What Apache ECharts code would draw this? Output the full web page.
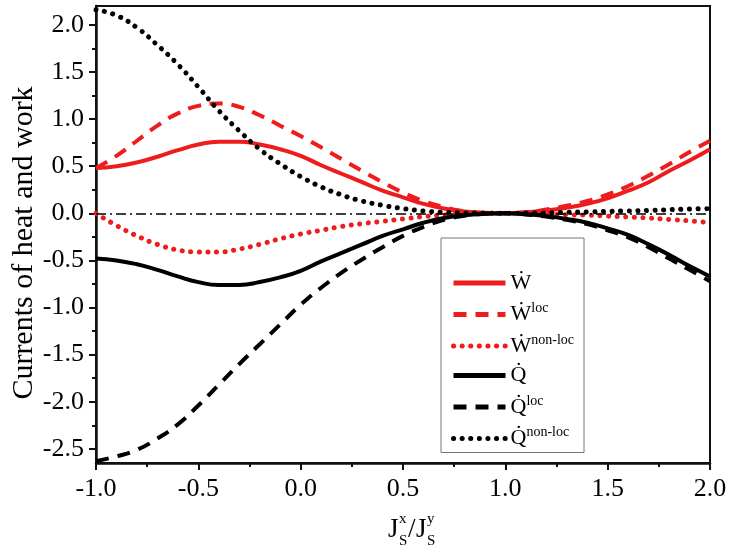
<!DOCTYPE html>
<html>
<head>
<meta charset="utf-8">
<script src="https://cdn.jsdelivr.net/npm/echarts@6/dist/echarts.min.js"></script>
<style>
html,body{margin:0;padding:0;background:#fff;}
#chart{width:734px;height:558px;}
</style>
</head>
<body>
<div id="chart"></div>
<script>
// ---- data ----
const xVals = [-1.0,-0.9,-0.8,-0.7,-0.6,-0.5,-0.4,-0.3,-0.2,-0.1,0.0,0.1,0.2,0.3,0.4,0.5,0.6,0.7,0.8,0.9,1.0,1.1,1.2,1.3,1.4,1.5,1.6,1.7,1.8,1.9,2.0];
const W      = [0.48,0.50,0.54,0.60,0.67,0.73,0.76,0.76,0.73,0.68,0.61,0.51,0.42,0.33,0.24,0.17,0.10,0.05,0.02,0.005,0,0.01,0.03,0.06,0.10,0.16,0.24,0.33,0.45,0.56,0.68];
const Wloc   = [0.48,0.61,0.77,0.93,1.06,1.14,1.165,1.13,1.04,0.93,0.82,0.70,0.575,0.45,0.33,0.22,0.13,0.065,0.02,0.005,0,0.01,0.04,0.08,0.13,0.20,0.29,0.40,0.52,0.65,0.77];
const Wnl    = [0,-0.13,-0.24,-0.33,-0.39,-0.41,-0.41,-0.38,-0.33,-0.27,-0.22,-0.18,-0.14,-0.11,-0.085,-0.06,-0.035,-0.02,-0.01,-0.003,0,-0.003,-0.008,-0.015,-0.02,-0.03,-0.04,-0.05,-0.065,-0.08,-0.10];
const Q      = [-0.48,-0.50,-0.54,-0.60,-0.67,-0.73,-0.76,-0.76,-0.73,-0.68,-0.61,-0.51,-0.42,-0.33,-0.24,-0.17,-0.10,-0.05,-0.02,-0.005,0,-0.01,-0.03,-0.06,-0.10,-0.16,-0.23,-0.33,-0.44,-0.56,-0.67];
const Qloc   = [-2.63,-2.58,-2.51,-2.39,-2.24,-2.04,-1.82,-1.60,-1.39,-1.18,-0.97,-0.79,-0.63,-0.49,-0.36,-0.24,-0.145,-0.07,-0.025,-0.005,0,-0.012,-0.035,-0.07,-0.115,-0.18,-0.255,-0.36,-0.48,-0.60,-0.72];
const Qnl    = [2.16,2.10,1.97,1.785,1.58,1.34,1.09,0.875,0.68,0.525,0.39,0.28,0.195,0.13,0.085,0.05,0.025,0.01,0.004,0.001,0,0.002,0.005,0.01,0.015,0.02,0.025,0.03,0.038,0.045,0.05];
const seriesNames = ['W','Wloc','Wnonloc','Q','Qloc','Qnonloc'];
const xTickLabels = ['-1.0','-0.5','0.0','0.5','1.0','1.5','2.0'];
const yTickLabels = ['-2.5','-2.0','-1.5','-1.0','-0.5','0.0','0.5','1.0','1.5','2.0'];
const yTitle = 'Currents of heat and work';
const zeroLevel = 0;

// ---- layout / style ----
const X_MIN = -1, X_MAX = 2, Y_MIN = -2.65, Y_MAX = 2.2;
const G_LEFT = 96, G_RIGHT = 24, G_TOP = 6, G_BOTTOM = 95;
const H = 558, plotH = H - G_TOP - G_BOTTOM;
const pxPerUnit = plotH / (Y_MAX - Y_MIN);
const tickTop = G_TOP + (Y_MAX - 2.0) * pxPerUnit;
const tickBottom = H - (G_TOP + (Y_MAX - (-2.5)) * pxPerUnit);
const FONT = 'Liberation Serif';
const RED = '#ee1c1c', BLACK = '#000';

function pairs(ys){ return xVals.map((x,i)=>[x, ys[i]]); }

const solid = c => ({color:c, width:4, type:'solid'});
const dashed = c => ({color:c, width:4, type:[13,9], cap:'butt'});
const dotted = c => ({color:c, width:5, type:[0.1,8.5], cap:'round'});

const specs = [
  {name:seriesNames[0], data:W, ls:solid(RED)},
  {name:seriesNames[1], data:Wloc, ls:dashed(RED)},
  {name:seriesNames[2], data:Wnl, ls:dotted(RED)},
  {name:seriesNames[3], data:Q, ls:solid(BLACK)},
  {name:seriesNames[4], data:Qloc, ls:dashed(BLACK)},
  {name:seriesNames[5], data:Qnl, ls:dotted(BLACK)}
];

const legendText = {
  W: '{b|W\u0307}',
  Wloc: '{b|W\u0307}{s|loc}',
  Wnonloc: '{b|W\u0307}{s|non-loc}',
  Q: '{b|Q\u0307}',
  Qloc: '{b|Q\u0307}{s|loc}',
  Qnonloc: '{b|Q\u0307}{s|non-loc}'
};

const series = specs.map(s => ({
  name: s.name, type:'line', xAxisIndex:0, yAxisIndex:0,
  data: pairs(s.data), smooth:true, symbol:'none', showSymbol:false,
  lineStyle: s.ls, itemStyle:{color:s.ls.color, opacity:0}, z: 3
}));
series.unshift({
  name:'zero', type:'line', xAxisIndex:0, yAxisIndex:0, data:[], symbol:'none',
  markLine:{silent:true, symbol:'none', label:{show:false},
    lineStyle:{color:'#000', width:1.5, type:[10,4,2,4]},
    data:[{yAxis: zeroLevel}]}
});
series.push({type:'line', xAxisIndex:1, yAxisIndex:1, data:[], symbol:'none'});

const chart = echarts.init(document.getElementById('chart'), null, {renderer:'canvas'});
chart.setOption({
  animation:false,
  backgroundColor:'#fff',
  grid:[
    {left:G_LEFT, right:G_RIGHT, top:G_TOP, bottom:G_BOTTOM, show:true, borderColor:'#111', borderWidth:2, backgroundColor:'transparent'},
    {left:G_LEFT, right:G_RIGHT, top:tickTop, bottom:tickBottom, show:false}
  ],
  legend:{
    data:seriesNames, orient:'vertical', left:441, top:238,
    width:133, padding:[34,10,3,10], itemGap:7.5, itemWidth:52, itemHeight:14,
    borderColor:'#777', borderWidth:1, backgroundColor:'#fff',
    selectedMode:false,
    itemStyle:{opacity:0},
    lineStyle:{width:5},
    formatter: n => legendText[n],
    textStyle:{
      color:'#000', fontFamily:FONT,
      rich:{
        b:{fontFamily:FONT, fontSize:22, color:'#000', lineHeight:26},
        s:{fontFamily:FONT, fontSize:14, color:'#000', lineHeight:14, verticalAlign:'top'}
      }
    }
  },
  xAxis:[
    {type:'value', gridIndex:0, min:X_MIN, max:X_MAX, interval:0.5,
     axisLine:{show:true, onZero:false, lineStyle:{color:'#111', width:2.5}},
     axisTick:{show:true, inside:false, length:7, lineStyle:{color:'#111', width:2}},
     minorTick:{show:true, splitNumber:2, length:4, lineStyle:{color:'#111', width:2}},
     splitLine:{show:false}, minorSplitLine:{show:false},
     axisLabel:{show:true, margin:13, color:'#000', fontFamily:FONT, fontSize:26,
       formatter: v => { const i = Math.round((v - X_MIN)/0.5); return xTickLabels[i] !== undefined ? xTickLabels[i] : ''; }}
    },
    {type:'value', gridIndex:1, min:X_MIN, max:X_MAX, show:false}
  ],
  yAxis:[
    {type:'value', gridIndex:0, min:Y_MIN, max:Y_MAX,
     axisLine:{show:true, onZero:false, lineStyle:{color:'#111', width:2.5}},
     axisTick:{show:false}, axisLabel:{show:false}, splitLine:{show:false}
    },
    {type:'value', gridIndex:1, min:-2.5, max:2.0, interval:0.5, position:'left',
     axisLine:{show:false, onZero:false},
     axisTick:{show:true, inside:false, length:7, lineStyle:{color:'#111', width:2}},
     minorTick:{show:true, splitNumber:2, length:4, lineStyle:{color:'#111', width:2}},
     splitLine:{show:false}, minorSplitLine:{show:false},
     axisLabel:{show:true, margin:12, color:'#000', fontFamily:FONT, fontSize:26,
       formatter: v => { const i = Math.round((v + 2.5)/0.5); return yTickLabels[i] !== undefined ? yTickLabels[i] : ''; }}
    }
  ],
  graphic:[
    {type:'text', x:24, y:243, rotation:Math.PI/2,
     style:{text:yTitle, font:'30px "Liberation Serif"', fill:'#000', align:'center', verticalAlign:'middle'}},
    {type:'group', left:388, top:512,
    children:[
      {type:'text', x:0, y:4, style:{text:'J', font:'27px "Liberation Serif"', fill:'#000'}},
      {type:'text', x:11, y:0, style:{text:'x', font:'15px "Liberation Serif"', fill:'#000'}},
      {type:'text', x:11, y:22, style:{text:'S', font:'15px "Liberation Serif"', fill:'#000'}},
      {type:'text', x:20, y:4, style:{text:'/', font:'27px "Liberation Serif"', fill:'#000'}},
      {type:'text', x:28, y:4, style:{text:'J', font:'27px "Liberation Serif"', fill:'#000'}},
      {type:'text', x:39, y:0, style:{text:'y', font:'15px "Liberation Serif"', fill:'#000'}},
      {type:'text', x:39, y:22, style:{text:'S', font:'15px "Liberation Serif"', fill:'#000'}}
    ]}
  ],
  series: series
});
</script>
</body>
</html>
